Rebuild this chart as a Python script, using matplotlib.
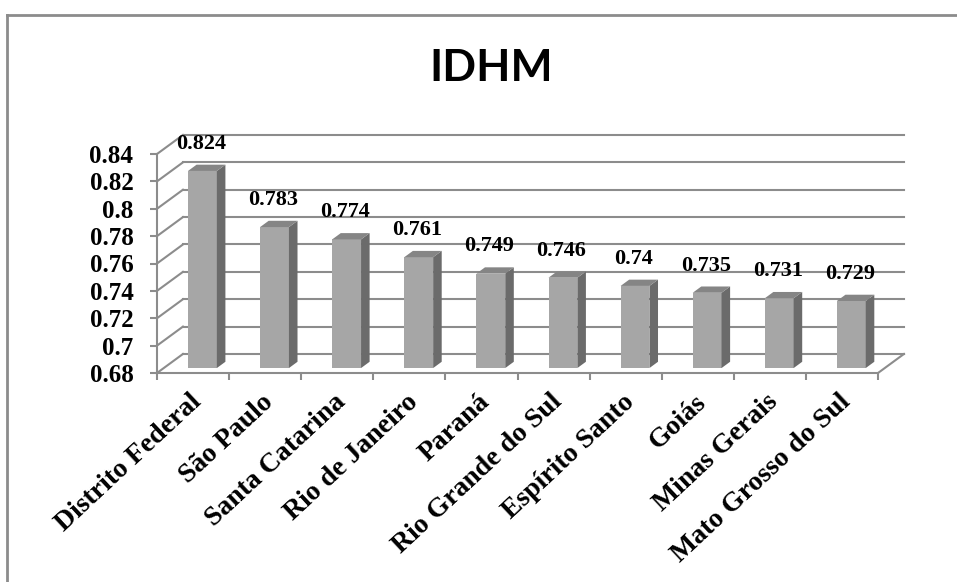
import matplotlib
matplotlib.use("Agg")
import matplotlib.pyplot as plt
from matplotlib.patches import Polygon, Rectangle
from matplotlib.lines import Line2D

# dados IDHM
estados = ["Distrito Federal", "São Paulo", "Santa Catarina", "Rio de Janeiro",
           "Paraná", "Rio Grande do Sul", "Espírito Santo", "Goiás",
           "Minas Gerais", "Mato Grosso do Sul"]
idhm = [0.824, 0.783, 0.774, 0.761, 0.749, 0.746, 0.74, 0.735, 0.731, 0.729]
yticks = [0.68, 0.7, 0.72, 0.74, 0.76, 0.78, 0.8, 0.82, 0.84]

grid_c = "#8c8c8c"
front_c = "#a6a6a6"
side_c = "#6b6b6b"
top_c = "#858585"

fig = plt.figure(figsize=(9.57, 5.82), dpi=100)
ax = fig.add_axes([157/957, 209/582, 721/957, 219/582])
ax.set_xlim(0, 10)
ax.set_ylim(0.68, 0.84)

# profundidade do "3d"
DX = 0.36
DY = 0.0139

# parede do fundo e lateral
for v in yticks:
    ax.plot([DX, 10 + DX], [v + DY, v + DY], color=grid_c, lw=1.5, zorder=1, clip_on=False)
    ax.plot([0, DX], [v, v + DY], color=grid_c, lw=1.5, zorder=1, clip_on=False)
ax.plot([10, 10 + DX], [0.68, 0.68 + DY], color=grid_c, lw=1.5, zorder=1, clip_on=False)

# barras
f0 = 0.26   # posicao da face frontal na profundidade
d = 0.33    # profundidade da barra
w = 0.40
for i, v in enumerate(idhm):
    x0 = i + 0.43
    b = 0.68 + f0 * DY
    t = v + f0 * DY
    ax.add_patch(Rectangle((x0, b), w, t - b, facecolor=front_c, edgecolor="none", zorder=3))
    ax.add_patch(Polygon([(x0 + w, b), (x0 + w + d*DX, b + d*DY), (x0 + w + d*DX, t + d*DY), (x0 + w, t)],
                         closed=True, facecolor=side_c, edgecolor="none", zorder=3))
    ax.add_patch(Polygon([(x0, t), (x0 + w, t), (x0 + w + d*DX, t + d*DY), (x0 + d*DX, t + d*DY)],
                         closed=True, facecolor=top_c, edgecolor="none", zorder=3))
    ax.annotate(f"{v:g}", (x0 + w/2 - 0.02, t + d*DY), xytext=(0, 15), textcoords="offset points",
                ha="center", va="center", fontsize=16, fontweight="bold",
                family="Liberation Serif", zorder=5, annotation_clip=False)

# eixos
for s in ["top", "right"]:
    ax.spines[s].set_visible(False)
for s in ["left", "bottom"]:
    ax.spines[s].set_color(grid_c)
    ax.spines[s].set_linewidth(1.5)
    ax.spines[s].set_zorder(2)
ax.set_facecolor("none")
ax.set_yticks(yticks)
ax.set_yticklabels([f"{v:g}" for v in yticks], fontsize=18, fontweight="bold", family="Liberation Serif")
ax.set_xticks(range(11))
ax.set_xticklabels([])
ax.tick_params(axis="both", color=grid_c, width=1.5, length=5, direction="out")
ax.tick_params(axis="y", pad=12)

for i, nome in enumerate(estados):
    ax.text(i + 0.45, 0.68 - 0.012, nome, rotation=43, rotation_mode="anchor",
            ha="right", va="top", fontsize=20, fontweight="bold", family="Liberation Serif")

# titulo e moldura
fig.text(491/957, 1 - 68/582, "IDHM", ha="center", va="center", fontsize=32,
         fontweight="bold", family="Lato")
fig.add_artist(Line2D([7/957, 7/957], [0, 1 - 15/582], color="#8c8c8c", lw=2))
fig.add_artist(Line2D([7/957, 1], [1 - 15/582, 1 - 15/582], color="#8c8c8c", lw=2))

fig.savefig("out.png", dpi=100)
